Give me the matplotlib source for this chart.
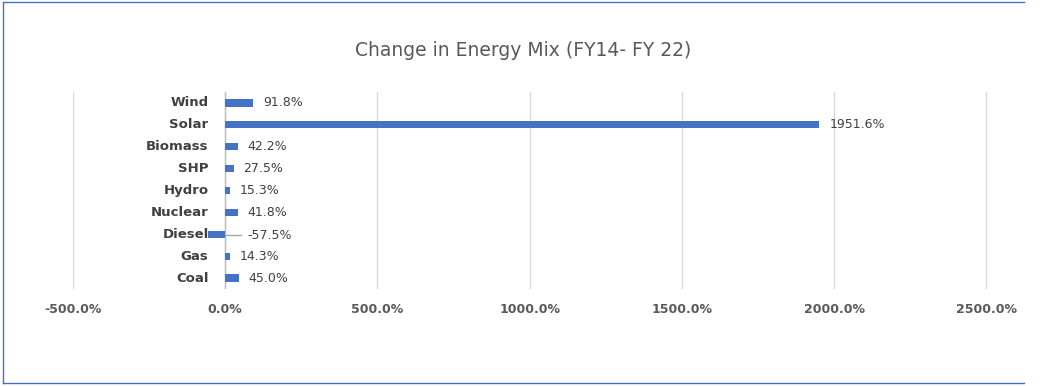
import matplotlib.pyplot as plt
from matplotlib.lines import Line2D

# data (top to bottom as shown)
sources = ['Wind', 'Solar', 'Biomass', 'SHP', 'Hydro', 'Nuclear', 'Diesel', 'Gas', 'Coal']
change = [91.8, 1951.6, 42.2, 27.5, 15.3, 41.8, -57.5, 14.3, 45.0]
ticks = [-500, 0, 500, 1000, 1500, 2000, 2500]

bar_color = '#4472C4'
text_color = '#404040'

fig = plt.figure(figsize=(10.46, 3.86), dpi=100)
ax = fig.add_axes([73 / 1046, 1 - 289 / 386, 915 / 1046, 197 / 386])

# reverse so the first item sits on top
ypos = list(range(len(sources)))[::-1]
ax.barh(ypos, change, height=0.33, color=bar_color, zorder=3)

ax.set_xlim(-500, 2505)
ax.set_ylim(-0.5, len(sources) - 0.5)
ax.set_xticks(ticks)
ax.set_xticklabels(['%.1f%%' % t for t in ticks], fontsize=9, fontweight='bold',
                   color='#595959')
ax.set_yticks([])
ax.tick_params(axis='both', length=0)
ax.tick_params(axis='x', pad=10)

ax.grid(axis='x', color='#D9D9D9', linewidth=1, zorder=0)
ax.axvline(0, color='#BFBFBF', linewidth=1, zorder=2)
for s in ax.spines.values():
    s.set_visible(False)

# category labels sit next to the zero line
for y, name in zip(ypos, sources):
    ax.annotate(name, (0, y), xytext=(-12, 0), textcoords='offset points',
                va='center', ha='right', fontsize=9.5, fontweight='bold',
                color=text_color, zorder=4)

# data labels
for y, v in zip(ypos, change):
    lab = '%.1f%%' % v
    if v >= 0:
        ax.annotate(lab, (v, y), xytext=(7, 0), textcoords='offset points',
                    va='center', ha='left', fontsize=9, color=text_color)
    else:
        # label pushed right of the axis with a leader line
        ax.plot([-5, 52], [y - 0.05, y - 0.05], color='#A6A6A6', lw=1, zorder=2)
        ax.annotate(lab, (0, y), xytext=(16, -1), textcoords='offset points',
                    va='center', ha='left', fontsize=9, color=text_color)

fig.text(0.5, 1 - 50 / 386, 'Change in Energy Mix (FY14- FY 22)', ha='center',
         va='center', fontsize=13.5, color='#595959')

# outer frame lines (top, left, bottom)
fc = '#4472C4'
fig.add_artist(Line2D([3 / 1046, 1024 / 1046], [1 - 2 / 386, 1 - 2 / 386], color=fc, lw=1))
fig.add_artist(Line2D([3 / 1046, 3 / 1046], [1 - 2 / 386, 1 - 383 / 386], color=fc, lw=1))
fig.add_artist(Line2D([3 / 1046, 1024 / 1046], [1 - 383 / 386, 1 - 383 / 386], color=fc, lw=1))

fig.savefig('out.png', dpi=100)
